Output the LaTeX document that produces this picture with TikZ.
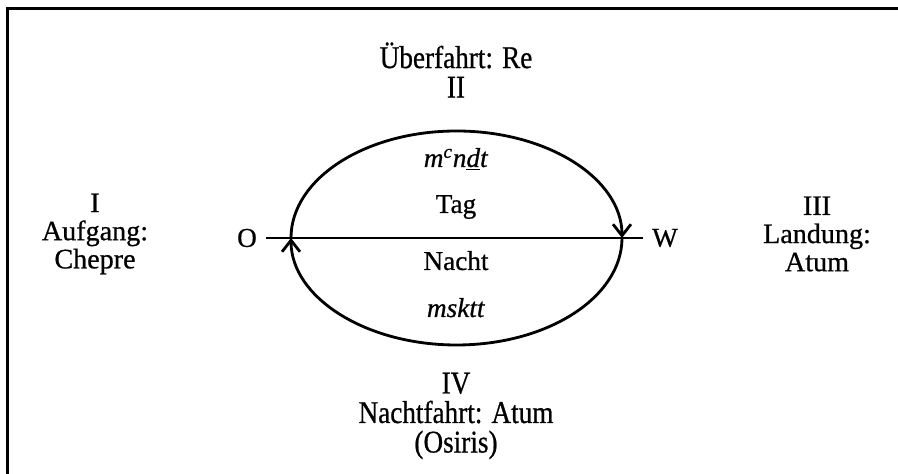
\documentclass[tikz,border=0pt]{standalone}
\usepackage{fontspec}
\setmainfont[FakeBold=0.7]{Liberation Serif}
\newfontfamily\schmal[FakeStretch=0.86,FakeBold=0.7]{Liberation Serif}
\usetikzlibrary{arrows.meta, positioning, calc}

\begin{document}
\begin{tikzpicture}[>={Straight Barb[length=2.3mm,width=3.6mm]},
    txt/.style={font=\fontsize{15.5}{17}\selectfont, inner sep=0pt, align=center},
    side/.style={txt, font=\fontsize{16}{16}\selectfont},
    fahrt/.style={txt, font=\schmal\fontsize{18}{16.8}\selectfont},
    bahn/.style={line width=1.6pt}]
  \useasboundingbox (0,0) rectangle (17.96,9.48);
  % frame, only top and left edge
  \draw[line width=1.7pt] (17.96,9.31) -- (0.15,9.31) -- (0.15,0);

  % the four stations
  \node[fahrt] (ueberfahrt) at (9.12,8.08) {Überfahrt: Re\\II};
  \node[side] (aufgang) at (1.90,4.80) {I\\Aufgang:\\Chepre};
  \node[side] (landung) at (16.34,4.80) {III\\Landung:\\Atum};
  \node[fahrt] (nachtfahrt) at (9.12,1.16) {IV\\Nachtfahrt: Atum\\(Osiris)};

  % east and west, with the horizon line
  \node[txt, inner xsep=0.17cm] (ost) at (4.94,4.72) {O};
  \node[txt, inner xsep=0.17cm] (west) at (13.30,4.72) {W};
  \draw[line width=0.8pt] (ost.east) -- (west.west);

  % day above, night below
  \coordinate (aufpunkt) at (5.82,4.72);
  \coordinate (untpunkt) at (12.44,4.72);
  \draw[bahn, ->] (aufpunkt) arc[start angle=180, end angle=0, x radius=3.31, y radius=2.14];
  \draw[bahn, ->] (untpunkt) arc[start angle=360, end angle=180, x radius=3.31, y radius=2.14];

  \node[txt, anchor=base] (mandjet) at (9.12,6.14) {\textit{m\textsuperscript{c}n\underline{d}t}};
  \node[txt, anchor=base] (tag) at (9.12,5.22) {Tag};
  \node[txt, anchor=base] (nacht) at (9.12,4.08) {Nacht};
  \node[txt, anchor=base] (mesketet) at (9.12,3.14) {\textit{msktt}};
\end{tikzpicture}
\end{document}
